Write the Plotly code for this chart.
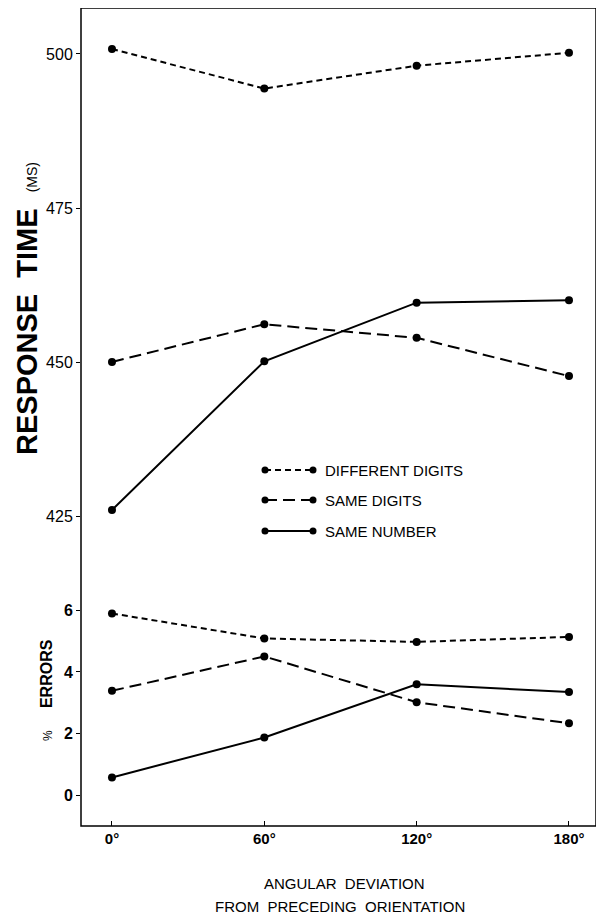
import plotly.graph_objects as go

# ---- data ----
angles = [0, 60, 120, 180]
angle_labels = ["0°", "60°", "120°", "180°"]
series_names = ["DIFFERENT DIGITS", "SAME DIGITS", "SAME NUMBER"]

rt_different_digits = [500.8, 494.4, 498.1, 500.2]
rt_same_digits = [450.1, 456.2, 454.0, 447.8]
rt_same_number = [426.1, 450.2, 459.7, 460.1]

err_different_digits = [5.89, 5.08, 4.97, 5.13]
err_same_digits = [3.39, 4.50, 3.02, 2.34]
err_same_number = [0.59, 1.88, 3.60, 3.35]

rt_ticks = [425, 450, 475, 500]
err_ticks = [0, 2, 4, 6]

# ---- styles ----
FONT = "Liberation Sans, Arial, Helvetica, sans-serif"
dashes = ["6px,4px", "12px,6px", "solid"]
rt_series = [rt_different_digits, rt_same_digits, rt_same_number]
err_series = [err_different_digits, err_same_digits, err_same_number]

fig = go.Figure()
for name, ys, d in zip(series_names, rt_series, dashes):
    fig.add_trace(go.Scatter(x=angles, y=ys, xaxis="x", yaxis="y", mode="lines+markers",
                             name=name, showlegend=False,
                             line=dict(color="black", width=2, dash=d),
                             marker=dict(color="black", size=8, symbol="circle")))
for name, ys, d in zip(series_names, err_series, dashes):
    fig.add_trace(go.Scatter(x=angles, y=ys, xaxis="x", yaxis="y2", mode="lines+markers",
                             name=name, showlegend=False,
                             line=dict(color="black", width=2, dash=d),
                             marker=dict(color="black", size=8, symbol="circle")))

# page has an 8px body margin; figure is sized so the page totals 604x922
OFF = 8
W, H = 596, 906
ml, mr, mt, mb = 73, 2, 0, 88
pw = W - ml - mr
ph = H - mt - mb

def py(page_y):  # page pixel y -> paper y
    return (H - mb - (page_y - OFF)) / ph

def pxx(page_x):  # page pixel x -> paper x
    return (page_x - OFF - ml) / pw

# frame (right edge kept inside the visible window area)
shapes = [dict(type="rect", xref="paper", yref="paper", x0=0, x1=pxx(596), y0=0, y1=1,
               line=dict(color="black", width=1.5), layer="above")]
annotations = []

# custom legend (markers at both ends)
leg_rows = [470, 500, 531]
for name, d, yy in zip(series_names, dashes, leg_rows):
    y = py(yy)
    x0, x1 = pxx(265), pxx(313)
    shapes.append(dict(type="line", xref="paper", yref="paper", x0=x0, x1=x1, y0=y, y1=y,
                       line=dict(color="black", width=2, dash=d)))
    r = 3.5 / pw
    ry = 3.5 / ph
    for xc in (x0, x1):
        shapes.append(dict(type="circle", xref="paper", yref="paper",
                           x0=xc - r, x1=xc + r, y0=y - ry, y1=y + ry,
                           fillcolor="black", line=dict(color="black", width=0)))
    annotations.append(dict(xref="paper", yref="paper", x=pxx(323), y=y, text=name,
                            showarrow=False, xanchor="left", yanchor="middle",
                            font=dict(family=FONT, size=15, color="black")))

# y titles
annotations.append(dict(xref="paper", yref="paper", x=pxx(27), y=py(309),
                        text="<b>RESPONSE&nbsp; TIME</b>  <span style='font-size:14px'>(MS)</span>",
                        textangle=-90, showarrow=False, xanchor="center", yanchor="middle",
                        font=dict(family=FONT, size=29, color="black")))
annotations.append(dict(xref="paper", yref="paper", x=pxx(46), y=py(690),
                        text="<span style='font-size:12px'>%</span>     <b>ERRORS</b>",
                        textangle=-90, showarrow=False, xanchor="center", yanchor="middle",
                        font=dict(family=FONT, size=16, color="black")))
# x title
annotations.append(dict(xref="paper", yref="paper", x=pxx(344), y=py(883),
                        text="ANGULAR  DEVIATION", showarrow=False,
                        xanchor="center", yanchor="middle",
                        font=dict(family=FONT, size=15, color="black")))
annotations.append(dict(xref="paper", yref="paper", x=pxx(340), y=py(907),
                        text="FROM  PRECEDING  ORIENTATION", showarrow=False,
                        xanchor="center", yanchor="middle",
                        font=dict(family=FONT, size=15, color="black")))

top_dom = [py(560), 1]
bot_dom = [0, py(580)]
top_rng = [418.0, 507.45]
bot_rng = [-0.98, 6.97]
axis_common = dict(showgrid=False, zeroline=False, showline=False, tickcolor="black",
                   tickwidth=1.2)

fig.update_layout(
    width=W, height=H,
    margin=dict(l=ml, r=mr, t=mt, b=mb),
    paper_bgcolor="white", plot_bgcolor="white",
    showlegend=False,
    font=dict(family=FONT, color="black"),
    xaxis=dict(range=[-12.2, 193], tickvals=angles, ticktext=angle_labels,
               anchor="y2", ticks="inside", ticklen=5,
               tickfont=dict(family=FONT, size=15, color="black", weight="bold"),
               ticklabelstandoff=2, **axis_common),
    yaxis=dict(domain=top_dom, range=top_rng, tickvals=rt_ticks,
               anchor="x", ticks="outside", ticklen=4,
               tickfont=dict(family=FONT, size=16, color="black"), **axis_common),
    yaxis2=dict(domain=bot_dom, range=bot_rng, tickvals=err_ticks,
                anchor="x", ticks="outside", ticklen=4,
                tickfont=dict(family=FONT, size=16, color="black", weight="bold"),
                **axis_common),
    shapes=shapes, annotations=annotations,
)

fig.write_html("out.html")
